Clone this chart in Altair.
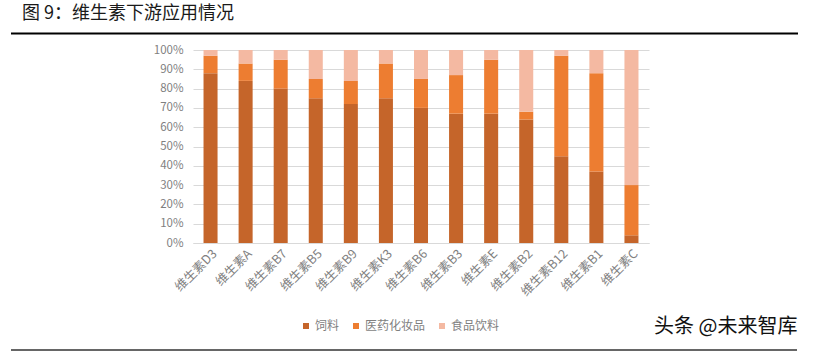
import altair as alt
import pandas as pd

categories = ["维生素D3", "维生素A", "维生素B7", "维生素B5", "维生素B9", "维生素K3",
              "维生素B6", "维生素B3", "维生素E", "维生素B2", "维生素B12", "维生素B1", "维生素C"]
feed = [88, 84, 80, 75, 72, 75, 70, 67, 67, 64, 45, 37, 4]
pharma = [9, 9, 15, 10, 12, 18, 15, 20, 28, 4, 52, 51, 26]
food = [3, 7, 5, 15, 16, 7, 15, 13, 5, 32, 3, 12, 70]
series = ["饲料", "医药化妆品", "食品饮料"]
colors = ["#C5652A", "#ED7D31", "#F4B9A2"]

rows = []
for i, c in enumerate(categories):
    for j, (s, v) in enumerate(zip(series, [feed[i], pharma[i], food[i]])):
        rows.append({"cat": c, "series": s, "value": v / 100.0, "order": j})
df = pd.DataFrame(rows)

FONT = "Noto Sans CJK SC"

bars = alt.Chart(df).mark_bar().encode(
    x=alt.X("cat:N", sort=categories, title=None,
            scale=alt.Scale(paddingInner=0.6, paddingOuter=0.3),
            axis=alt.Axis(labelAngle=-45, labelColor="#808080", labelFontSize=12.5,
                          labelFont=FONT, ticks=False, domain=True, domainColor="#D9D9D9",
                          labelPadding=4, grid=False)),
    y=alt.Y("value:Q", stack="zero", title=None,
            scale=alt.Scale(domain=[0, 1]),
            axis=alt.Axis(format=".0%", values=[i / 10 for i in range(11)],
                          labelColor="#7f7f7f", labelFontSize=11.5, labelFont=FONT,
                          ticks=False, domain=False, gridColor="#D9D9D9",
                          labelPadding=10)),
    color=alt.Color("series:N", sort=series,
                    scale=alt.Scale(domain=series, range=colors),
                    legend=alt.Legend(title=None, orient="none", direction="horizontal",
                                      legendX=107, legendY=270, symbolType="square",
                                      symbolSize=36, labelFontSize=12, labelColor="#7f7f7f",
                                      labelFont=FONT, columnPadding=10, labelOffset=3,
                                      symbolStrokeWidth=0)),
    order=alt.Order("order:Q"),
)

title_df = pd.DataFrame({"t": ["图 9：维生素下游应用情况"]})
title = alt.Chart(title_df).mark_text(
    align="left", baseline="middle", fontSize=18, font=FONT, color="#1a1a1a"
).encode(x=alt.value(-171), y=alt.value(-36), text="t:N")

wm_df = pd.DataFrame({"t": ["头条 @未来智库"]})
watermark = alt.Chart(wm_df).mark_text(
    align="left", baseline="middle", fontSize=20, font=FONT, color="#111111"
).encode(x=alt.value(461), y=alt.value(277), text="t:N")

top_line = alt.Chart(title_df).mark_rule(color="#000000", strokeWidth=2).encode(
    x=alt.value(-182), x2=alt.value(605), y=alt.value(-16.5))
bottom_line = alt.Chart(title_df).mark_rule(color="#333333", strokeWidth=1.5).encode(
    x=alt.value(-182), x2=alt.value(604), y=alt.value(300))

chart = alt.layer(bars, title, watermark, top_line, bottom_line).properties(
    width=456, height=193,
    autosize=alt.AutoSizeParams(type="none"),
    padding={"left": 193, "top": 50, "right": 167, "bottom": 109},
    background="white",
).configure_view(stroke=None)

chart.save("out.html", embed_options={"renderer": "svg", "actions": False})
